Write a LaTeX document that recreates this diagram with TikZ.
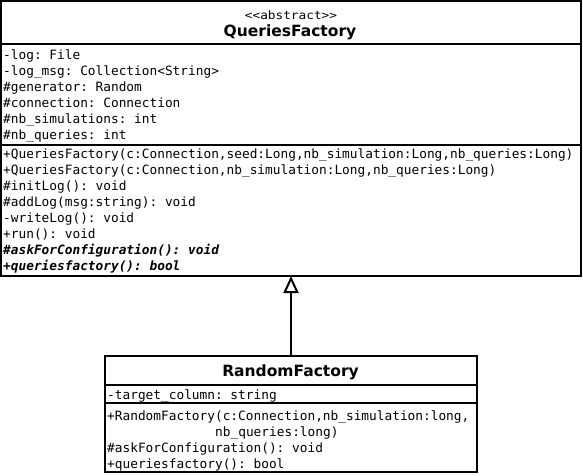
\documentclass[tikz,border=0pt]{standalone}
\usepackage{fontspec}
\usepackage{graphicx}
\usetikzlibrary{arrows.meta}
\newfontfamily\monof{DejaVu Sans Mono}[BoldItalicFont={DejaVu Sans Mono Bold Oblique},ItalicFont={DejaVu Sans Mono Oblique},BoldFont={DejaVu Sans Mono Bold}]
\newfontfamily\titlef{DejaVu Sans}[BoldFont={DejaVu Sans Bold}]
\tikzset{
  umlbox/.style={draw, line width=2pt, inner sep=0pt, outer sep=0pt, fill=white},
  sepline/.style={line width=2pt},
  mem/.style={anchor=base west, inner sep=0pt, font=\frenchspacing\monof\fontsize{12.8}{15}\selectfont},
  absmem/.style={mem, font=\frenchspacing\monof\bfseries\itshape\fontsize{12.8}{15}\selectfont},
  ctitle/.style={anchor=base, inner sep=0pt, font=\titlef\bfseries\fontsize{15.5}{18}\selectfont},
  stereo/.style={anchor=base, inner sep=0pt, font=\monof\fontsize{11.5}{13}\selectfont},
  inherit/.style={line width=2pt, -{Triangle[open, length=17pt, width=15pt]}}
}
\frenchspacing
\begin{document}
\begin{tikzpicture}[x=1pt, y=-1pt]
\useasboundingbox (0,0) rectangle (583,475);
\fill[white] (0,0) rectangle (583,475);
% QueriesFactory
\node[umlbox, minimum width=579.5pt, minimum height=275pt] (qf) at (290.75,138.5) {};
\draw[sepline] (qf.west |- 0,44) -- (qf.east |- 0,44);
\draw[sepline] (qf.west |- 0,145) -- (qf.east |- 0,145);
\node[stereo] (qfs) at (291,19) {\scalebox{1.11}[1]{<<abstract>>}};
\node[ctitle] (qft) at (290,36) {QueriesFactory};
\node[mem] (qa1) at (3,59) {-log: File};
\node[mem] (qa2) at (3,75) {-log\_msg: Collection<String>};
\node[mem] (qa3) at (3,91) {\#generator: Random};
\node[mem] (qa4) at (3,107) {\#connection: Connection};
\node[mem] (qa5) at (3,123) {\#nb\_simulations: int};
\node[mem] (qa6) at (3,139) {\#nb\_queries: int};
\node[mem] (qm1) at (3,158) {+QueriesFactory(c:Connection,seed:Long,nb\_simulation:Long,nb\_queries:Long)};
\node[mem] (qm2) at (3,174) {+QueriesFactory(c:Connection,nb\_simulation:Long,nb\_queries:Long)};
\node[mem] (qm3) at (3,190) {\#initLog(): void};
\node[mem] (qm4) at (3,206) {\#addLog(msg:string): void};
\node[mem] (qm5) at (3,222) {-writeLog(): void};
\node[mem] (qm6) at (3,238) {+run(): void};
\node[absmem] (qm7) at (3,254) {\#askForConfiguration(): void};
\node[absmem] (qm8) at (3,270) {+queriesfactory(): bool};
% RandomFactory
\node[umlbox, minimum width=372pt, minimum height=116pt] (rf) at (291,414) {};
\draw[sepline] (rf.west |- 0,384.5) -- (rf.east |- 0,384.5);
\draw[sepline] (rf.west |- 0,402.5) -- (rf.east |- 0,402.5);
\node[ctitle] (rft) at (290.5,376) {RandomFactory};
\node[mem] (ra1) at (107,399) {-target\_column: string};
\node[mem] (rm1) at (107,420) {+RandomFactory(c:Connection,nb\_simulation:long,};
\node[mem] (rm1b) at (215,436) {nb\_queries:long)};
\node[mem] (rm2) at (107,452) {\#askForConfiguration(): void};
\node[mem] (rm3) at (107,468) {+queriesfactory(): bool};
% inheritance
\draw[inherit] (rf.north) -- (rf.north |- qf.south);
\end{tikzpicture}
\end{document}
